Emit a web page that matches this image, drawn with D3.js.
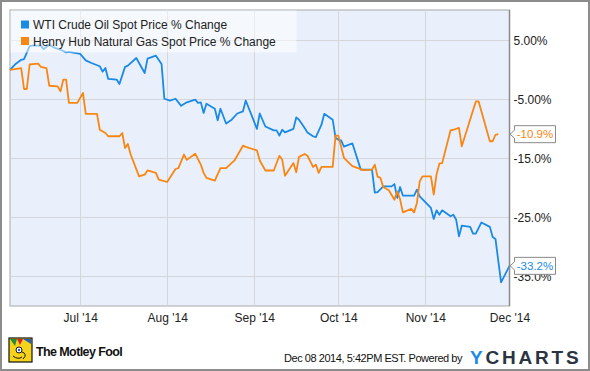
<!DOCTYPE html>
<html>
<head>
<meta charset="utf-8">
<script src="https://cdn.jsdelivr.net/npm/d3@7"></script>
<style>
  body { margin: 0; background: #fff; }
  svg { display: block; font-family: "Liberation Sans", Arial, sans-serif; }
  .grid line { stroke: #d4d6da; stroke-width: 1; }
  .tick text { fill: #222; font-size: 12px; }
</style>
</head>
<body>
<div class="panel"></div>
<script>

// Data

const seriesNames = ["WTI Crude Oil Spot Price % Change", "Henry Hub Natural Gas Spot Price % Change"];
const seriesColors = ["#1a8ae6", "#fa8612"];

const wtiDates = ["2014-06-06","2014-06-08","2014-06-10","2014-06-11","2014-06-13","2014-06-14","2014-06-17","2014-06-18","2014-06-20","2014-06-22","2014-06-24","2014-06-26","2014-06-27","2014-06-29","2014-07-01","2014-07-03","2014-07-05","2014-07-08","2014-07-09","2014-07-10","2014-07-11","2014-07-14","2014-07-15","2014-07-17","2014-07-18","2014-07-21","2014-07-24","2014-07-25","2014-07-28","2014-07-30","2014-07-31","2014-08-02","2014-08-04","2014-08-06","2014-08-08","2014-08-11","2014-08-12","2014-08-13","2014-08-14","2014-08-15","2014-08-18","2014-08-19","2014-08-20","2014-08-22","2014-08-24","2014-08-26","2014-08-28","2014-08-29","2014-08-31","2014-09-02","2014-09-03","2014-09-05","2014-09-08","2014-09-09","2014-09-10","2014-09-11","2014-09-12","2014-09-15","2014-09-16","2014-09-17","2014-09-19","2014-09-20","2014-09-22","2014-09-23","2014-09-25","2014-09-26","2014-09-29","2014-09-30","2014-10-01","2014-10-02","2014-10-03","2014-10-06","2014-10-09","2014-10-13","2014-10-14","2014-10-15","2014-10-17","2014-10-20","2014-10-21","2014-10-22","2014-10-23","2014-10-24","2014-10-28","2014-10-29","2014-10-30","2014-11-03","2014-11-04","2014-11-05","2014-11-06","2014-11-07","2014-11-10","2014-11-11","2014-11-12","2014-11-13","2014-11-14","2014-11-17","2014-11-18","2014-11-19","2014-11-21","2014-11-24","2014-11-25","2014-11-26","2014-11-28","2014-12-01"];
const wtiValues = [0,1.0,1.7,1.8,4.0,4.1,4.1,3.5,4.25,3.7,3.4,2.95,3.05,2.85,2.7,1.6,1.15,0.6,-0.3,0.3,-1.55,-1.65,-2.4,0.5,0.7,2.0,-0.55,1.9,2.4,1.0,-4.9,-5.2,-4.9,-6.1,-5.5,-5.05,-5.6,-5.5,-7.3,-5.75,-6.6,-8.55,-6.6,-9.1,-8.45,-7.4,-7.05,-5.2,-7.6,-10.0,-7.4,-9.6,-10.25,-10.25,-11.15,-10.15,-10.6,-10.0,-8.05,-8.45,-9.85,-10.6,-11.25,-11.4,-9.3,-7.45,-8.45,-11.5,-11.85,-11.95,-13.0,-12.45,-16.9,-16.9,-20.8,-20.7,-19.75,-19.75,-19.35,-21.7,-19.85,-21.3,-21.3,-20.3,-21.45,-23.4,-25.25,-23.8,-24.55,-23.8,-24.8,-24.55,-25.4,-28.2,-26.4,-26.6,-27.75,-27.75,-25.85,-26.6,-28.3,-28.65,-36.0,-33.2];

const gasDates = ["2014-06-06","2014-06-10","2014-06-11","2014-06-12","2014-06-13","2014-06-15","2014-06-16","2014-06-17","2014-06-19","2014-06-20","2014-06-23","2014-06-24","2014-06-25","2014-06-26","2014-06-27","2014-06-30","2014-07-02","2014-07-03","2014-07-07","2014-07-08","2014-07-10","2014-07-11","2014-07-15","2014-07-16","2014-07-17","2014-07-18","2014-07-19","2014-07-22","2014-07-24","2014-07-25","2014-07-28","2014-07-29","2014-08-01","2014-08-04","2014-08-05","2014-08-07","2014-08-08","2014-08-11","2014-08-13","2014-08-14","2014-08-15","2014-08-18","2014-08-20","2014-08-22","2014-08-25","2014-08-28","2014-08-29","2014-09-02","2014-09-03","2014-09-05","2014-09-08","2014-09-10","2014-09-11","2014-09-12","2014-09-15","2014-09-16","2014-09-17","2014-09-19","2014-09-20","2014-09-22","2014-09-23","2014-09-24","2014-09-25","2014-09-29","2014-09-30","2014-10-01","2014-10-03","2014-10-06","2014-10-10","2014-10-13","2014-10-14","2014-10-15","2014-10-16","2014-10-17","2014-10-19","2014-10-21","2014-10-22","2014-10-23","2014-10-24","2014-10-27","2014-10-28","2014-10-29","2014-10-30","2014-10-31","2014-11-03","2014-11-04","2014-11-05","2014-11-06","2014-11-07","2014-11-10","2014-11-11","2014-11-13","2014-11-14","2014-11-19","2014-11-20","2014-11-24","2014-11-25","2014-11-26","2014-11-27"];
const gasValues = [0,0.3,-3.25,-3.25,0.9,1.0,1.05,0.5,0.3,-2.7,-2.8,-3.65,-1.65,-1.65,-5.6,-5.6,-3.9,-7.45,-7.45,-10.15,-10.7,-11.25,-11.25,-10.7,-13.25,-12.55,-14.35,-18.05,-17.75,-17.05,-17.45,-18.6,-19.0,-16.8,-16.65,-14.35,-15.25,-14.2,-16.05,-17.45,-18.3,-18.75,-16.65,-16.65,-15.35,-12.85,-13.05,-13.65,-15.35,-17.05,-17.05,-14.55,-15.2,-17.95,-15.8,-17.35,-14.75,-14.25,-14.55,-16.45,-16.05,-17.45,-16.45,-16.45,-11.15,-11.15,-14.9,-16.3,-17.0,-16.9,-16.05,-18.1,-18.3,-19.85,-20.4,-22.0,-20.6,-21.9,-24.15,-23.55,-24.15,-22.55,-18.9,-18.05,-18.05,-21.15,-17.75,-15.9,-15.8,-10.25,-10.15,-9.85,-12.95,-5.35,-5.35,-12.1,-12.1,-11.0,-10.9];

const yTicks = [5, -5, -15, -25, -35];
const yTickLabels = ["5.00%", "-5.00%", "-15.0%", "-25.0%", "-35.0%"];
const xTicks = ["2014-07-01", "2014-08-01", "2014-09-01", "2014-10-01", "2014-11-01", "2014-12-01"];
const lastLabels = ["-33.2%", "-10.9%"];

// Render chart

const params = {
    width: 590,
    height: 371,
    left: 10,
    right: 509.5,
    top: 10,
    bottom: 306
};

const parse = d3.timeParse("%Y-%m-%d");

const series = [
    wtiDates.map((d, i) => ({ date: parse(d), value: wtiValues[i] })),
    gasDates.map((d, i) => ({ date: parse(d), value: gasValues[i] }))
];

const svg = d3.select(".panel").append("svg")
    .attr("width", params.width)
    .attr("height", params.height);

const x = d3.scaleTime()
    .domain([parse("2014-06-06"), parse("2014-12-01")])
    .range([params.left, params.right]);

const y = d3.scaleLinear()
    .domain([-40, 10.13])
    .range([params.bottom, params.top]);

// outer frame
svg.append("rect")
    .attr("x", 1).attr("y", 1)
    .attr("width", params.width - 2).attr("height", params.height - 2)
    .attr("fill", "#fff")
    .attr("stroke", "#8c8c8c")
    .attr("stroke-width", 2);

// plot background
svg.append("rect")
    .attr("x", params.left).attr("y", params.top)
    .attr("width", params.right - params.left)
    .attr("height", params.bottom - params.top)
    .attr("fill", "#eaf0fb")
    .attr("stroke", "#a8a8a8")
    .attr("stroke-width", 1);

// grid
svg.append("g")
    .attr("class", "grid")
    .selectAll("line.h")
    .data(yTicks)
    .enter().append("line")
    .attr("x1", params.left).attr("x2", params.right)
    .attr("y1", d => Math.round(y(d)) + 0.5)
    .attr("y2", d => Math.round(y(d)) + 0.5);

svg.append("g")
    .attr("class", "grid")
    .selectAll("line.v")
    .data(xTicks.slice(0, -1))
    .enter().append("line")
    .attr("y1", params.top).attr("y2", params.bottom)
    .attr("x1", d => Math.round(x(parse(d))) + 0.5)
    .attr("x2", d => Math.round(x(parse(d))) + 0.5);

// lines
const line = d3.line()
    .x(d => x(d.date))
    .y(d => y(d.value));

svg.selectAll("path.series")
    .data(series)
    .enter().append("path")
    .attr("class", "series")
    .attr("fill", "none")
    .attr("stroke", (d, i) => seriesColors[i])
    .attr("stroke-width", 1.8)
    .attr("stroke-linejoin", "round")
    .attr("d", line);

// legend (semi-transparent box over the lines)
svg.append("rect")
    .attr("x", params.left + 0.5).attr("y", params.top + 0.5)
    .attr("width", 286).attr("height", 42)
    .attr("fill", "#fff")
    .attr("opacity", 0.5);

const legend = svg.selectAll("g.legend")
    .data(seriesNames)
    .enter().append("g")
    .attr("class", "legend")
    .attr("transform", (d, i) => `translate(21, ${20.5 + i * 16.5})`);

legend.append("rect")
    .attr("width", 8).attr("height", 8)
    .attr("fill", (d, i) => seriesColors[i]);

legend.append("text")
    .attr("x", 12).attr("y", 8.5)
    .attr("font-size", 12)
    .attr("fill", "#222")
    .text(d => d);

// right axis
const yAxis = svg.append("g")
    .attr("transform", `translate(${params.right}, 0)`)
    .call(d3.axisRight(y)
        .tickValues(yTicks)
        .tickFormat((d, i) => yTickLabels[i])
        .tickSize(0)
        .tickPadding(4));

yAxis.select(".domain")
    .attr("stroke", "#8a8a8a")
    .attr("stroke-width", 1.5)
    .attr("d", `M0,${params.top}V${params.bottom}`);

// bottom axis
const xAxis = svg.append("g")
    .attr("transform", `translate(0, ${params.bottom})`)
    .call(d3.axisBottom(x)
        .tickValues(xTicks.map(parse))
        .tickFormat(d3.timeFormat("%b '%y"))
        .tickSize(0)
        .tickPadding(7));

xAxis.select(".domain").remove();

// last value flags
const flags = svg.selectAll("g.flag")
    .data(series)
    .enter().append("g")
    .attr("class", "flag")
    .attr("transform", d => `translate(${params.right + 0.5}, ${y(d[d.length - 1].value)})`);

flags.append("path")
    .attr("d", "M0,0 L4.5,-4 V-8.5 H45.5 V8.5 H4.5 V4 Z")
    .attr("fill", "#fff")
    .attr("stroke", "#8a8a8a")
    .attr("stroke-width", 1);

flags.append("text")
    .attr("x", 25).attr("y", 4)
    .attr("text-anchor", "middle")
    .attr("font-size", 11.5)
    .attr("fill", (d, i) => seriesColors[i])
    .text((d, i) => lastLabels[i]);

// footer: Motley Fool logo
const fool = svg.append("g").attr("transform", "translate(9, 338)");

fool.append("rect").attr("width", 23).attr("height", 24).attr("fill", "#f5d21c").attr("stroke", "#111").attr("stroke-width", 1.2);
fool.append("path").attr("d", "M1,1 L8,1 L6,8 Z").attr("fill", "#2a8a3a");
fool.append("path").attr("d", "M8,1 L14,1 L11,7 Z").attr("fill", "#d62728");
fool.append("path").attr("d", "M14,1 L22,1 L22,6 Z").attr("fill", "#1f5fbf");
fool.append("circle").attr("cx", 10).attr("cy", 12).attr("r", 3).attr("fill", "#fff").attr("stroke", "#111");
fool.append("circle").attr("cx", 10).attr("cy", 12).attr("r", 1.2).attr("fill", "#1f5fbf");
fool.append("path").attr("d", "M13,14 Q19,16 14,21 M4,18 Q9,22 13,19").attr("fill", "none").attr("stroke", "#111").attr("stroke-width", 1);

svg.append("text")
    .attr("x", 36).attr("y", 356)
    .attr("font-size", 12.5)
    .attr("font-weight", "bold")
    .attr("letter-spacing", -0.6)
    .attr("fill", "#111")
    .text("The Motley Fool");

// footer: timestamp and YCharts
svg.append("text")
    .attr("x", 284).attr("y", 362)
    .attr("font-size", 11)
    .attr("letter-spacing", -0.45)
    .attr("fill", "#111")
    .text("Dec 08 2014, 5:42PM EST.  Powered by");

const ych = svg.append("text")
    .attr("x", 470).attr("y", 364)
    .attr("font-size", 19)
    .attr("font-weight", "bold")
    .attr("letter-spacing", 2.8);

ych.append("tspan").attr("fill", "#1c8be3").text("Y");
ych.append("tspan").attr("fill", "#2b3542").text("CHARTS");

</script>
</body>
</html>
